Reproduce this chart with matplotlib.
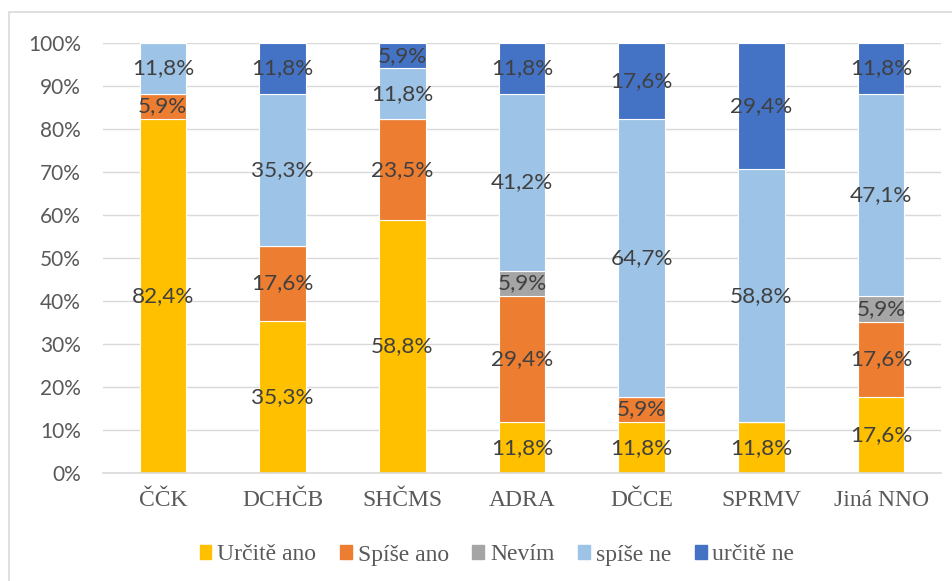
import matplotlib
matplotlib.use("Agg")
import matplotlib.pyplot as plt
import matplotlib.patches as mpatches
from matplotlib.font_manager import FontProperties
import numpy as np

categories = ["ČČK", "DCHČB", "SHČMS", "ADRA", "DČCE", "SPRMV", "Jiná NNO"]
series_names = ["Určitě ano", "Spíše ano", "Nevím", "spíše ne", "určitě ne"]
urcite_ano = [82.4, 35.3, 58.8, 11.8, 11.8, 11.8, 17.6]
spise_ano = [5.9, 17.6, 23.5, 29.4, 5.9, 0.0, 17.6]
nevim = [0.0, 0.0, 0.0, 5.9, 0.0, 0.0, 5.9]
spise_ne = [11.8, 35.3, 11.8, 41.2, 64.7, 58.8, 47.1]
urcite_ne = [0.0, 11.8, 5.9, 11.8, 17.6, 29.4, 11.8]
yticks = [0, 10, 20, 30, 40, 50, 60, 70, 80, 90, 100]

colors = ["#FFC000", "#ED7D31", "#A5A5A5", "#9DC3E6", "#4472C4"]

W, H = 952, 581
fig = plt.figure(figsize=(W / 100, H / 100), dpi=100)
ax = fig.add_axes([103 / W, 1 - 473 / H, (941 - 103) / W, (473 - 43) / H])

data = np.array([urcite_ano, spise_ano, nevim, spise_ne, urcite_ne])
totals = data.sum(axis=0)
pct = data / totals * 100
x = np.arange(len(categories))
bottom = np.zeros(len(categories))
sans = ["Lato", "DejaVu Sans"]
serif = ["Liberation Serif", "DejaVu Serif"]

for i, name in enumerate(series_names):
    ax.bar(x, pct[i], 0.39, bottom=bottom, color=colors[i], edgecolor="white",
           linewidth=0.8, label=name, zorder=3)
    for j in range(len(categories)):
        if data[i, j] > 0:
            ax.text(x[j], bottom[j] + pct[i, j] / 2,
                    f"{data[i, j]:.1f}%".replace(".", ","),
                    ha="center", va="center", fontsize=16.2, color="#404040",
                    family=sans, zorder=4)
    bottom += pct[i]

ax.set_xlim(-0.5, len(categories) - 0.5)
ax.set_ylim(0, 100)
ax.set_yticks(yticks)
ax.set_yticklabels([f"{v}%" for v in yticks], family=sans, fontsize=15, color="#595959")
ax.set_xticks(x)
ax.set_xticklabels(categories, family=serif, fontsize=17, color="#595959")
ax.tick_params(axis="y", length=0, pad=16)
ax.tick_params(axis="x", length=0, pad=12)
ax.grid(axis="y", color="#D9D9D9", linewidth=1.0, zorder=0)
ax.set_axisbelow(True)
for s in ["top", "right", "left"]:
    ax.spines[s].set_visible(False)
ax.spines["bottom"].set_color("#D9D9D9")
ax.spines["bottom"].set_linewidth(1.2)
ax.spines["bottom"].set_zorder(5)

handles = [mpatches.Patch(color=c) for c in colors]
leg_font = FontProperties(family="Liberation Serif", size=17)
leg = fig.legend(handles, series_names, loc="center", bbox_to_anchor=(497 / W, 1 - 555 / H),
                 ncol=5, frameon=False, prop=leg_font,
                 handlelength=0.5, handleheight=0.5, handletextpad=0.25,
                 columnspacing=1.0, labelcolor="#595959")
for t in leg.get_texts():
    t.set_fontfamily(serif)
    t.set_fontsize(17)

border = mpatches.Rectangle((9 / W, -0.05), 1.1, 1 - 12 / H + 0.05,
                            transform=fig.transFigure, fill=False,
                            edgecolor="#D9D9D9", linewidth=1.2, clip_on=False)
fig.patches.append(border)

fig.savefig("out.png", dpi=100)
